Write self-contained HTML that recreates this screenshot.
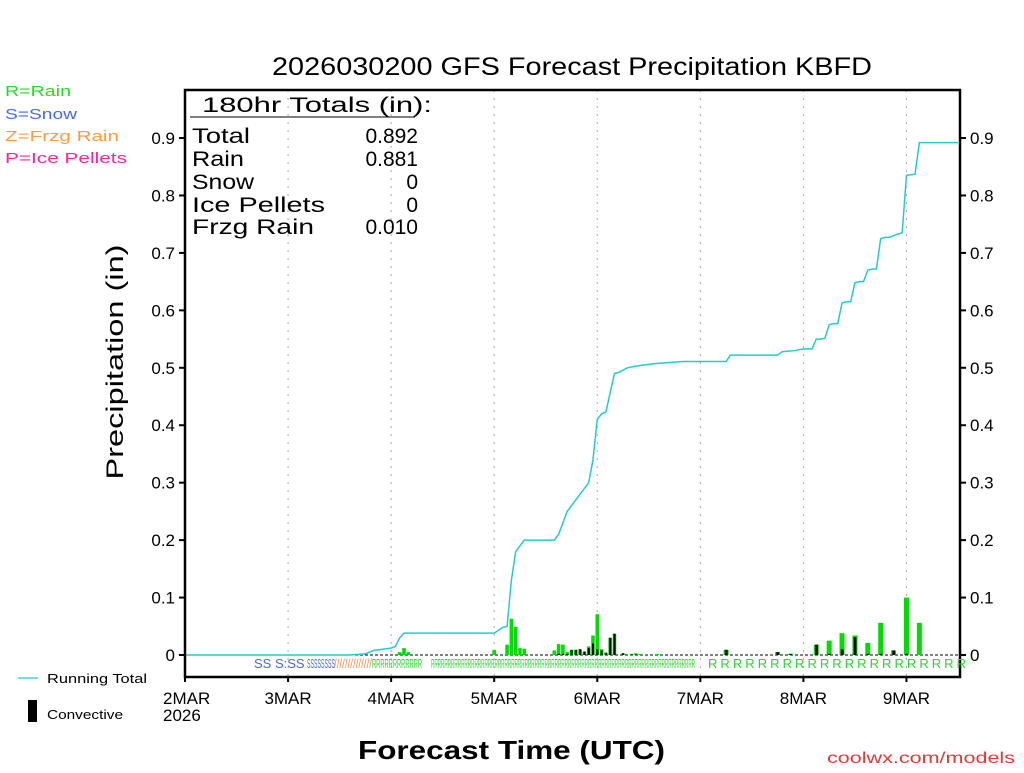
<!DOCTYPE html>
<html><head><meta charset="utf-8"><style>
body{margin:0;background:#fff;width:1024px;height:768px;overflow:hidden}
svg{font-family:"Liberation Sans","DejaVu Sans",sans-serif}
</style></head><body>
<svg id="chart" width="1024" height="768" xmlns="http://www.w3.org/2000/svg">
<rect width="1024" height="768" fill="#fff"/>
<text x="272" y="75" font-size="25" textLength="600" lengthAdjust="spacingAndGlyphs">2026030200 GFS Forecast Precipitation KBFD</text>
<g font-size="15">
<text x="5" y="96" fill="#22dd22" textLength="66" lengthAdjust="spacingAndGlyphs">R=Rain</text>
<text x="5" y="119" fill="#4466ff" textLength="72" lengthAdjust="spacingAndGlyphs">S=Snow</text>
<text x="5" y="141" fill="#ff9944" textLength="114" lengthAdjust="spacingAndGlyphs">Z=Frzg Rain</text>
<text x="5" y="163" fill="#ff2299" textLength="122" lengthAdjust="spacingAndGlyphs">P=Ice Pellets</text>
</g>
<text transform="translate(123,362) rotate(-90)" font-size="24" text-anchor="middle" textLength="235" lengthAdjust="spacingAndGlyphs">Precipitation (in)</text>
<text x="358" y="759" font-size="26" font-weight="bold" textLength="307" lengthAdjust="spacingAndGlyphs">Forecast Time (UTC)</text>
<text x="1015" y="763" font-size="16" fill="#ee3333" text-anchor="end" textLength="188" lengthAdjust="spacingAndGlyphs">coolwx.com/models</text>
<g>
<line x1="18" y1="678" x2="38" y2="678" stroke="#22cccc" stroke-width="1.2"/>
<text x="47" y="683" font-size="13" textLength="100" lengthAdjust="spacingAndGlyphs">Running Total</text>
<rect x="28" y="700" width="9" height="22" fill="#000"/>
<text x="47" y="719" font-size="13" textLength="76" lengthAdjust="spacingAndGlyphs">Convective</text>
</g>
<g id="grid"></g><g id="bars"></g><g id="line"></g><g id="axes"></g><g id="ptype"></g>
<g font-size="21">
<text x="202" y="112" textLength="230" lengthAdjust="spacingAndGlyphs">180hr Totals (in):</text>
<line x1="190" y1="117" x2="415" y2="117" stroke="#000"/>
<text x="192" y="143" textLength="58" lengthAdjust="spacingAndGlyphs">Total</text><text x="418" y="143" text-anchor="end">0.892</text>
<text x="192" y="166" textLength="52" lengthAdjust="spacingAndGlyphs">Rain</text><text x="418" y="166" text-anchor="end">0.881</text>
<text x="192" y="189" textLength="62" lengthAdjust="spacingAndGlyphs">Snow</text><text x="418" y="189" text-anchor="end">0</text>
<text x="192" y="212" textLength="133" lengthAdjust="spacingAndGlyphs">Ice Pellets</text><text x="418" y="212" text-anchor="end">0</text>
<text x="192" y="234" textLength="122" lengthAdjust="spacingAndGlyphs">Frzg Rain</text><text x="418" y="234" text-anchor="end">0.010</text>
</g>
</svg>
<script>
const dayLabels=["2MAR","3MAR","4MAR","5MAR","6MAR","7MAR","8MAR","9MAR"];
const yTicks=[0,0.1,0.2,0.3,0.4,0.5,0.6,0.7,0.8,0.9];
// bars: hour, total, convective
const barHours=[41,50,51,52,72,75,76,77,78,79,86,87,88,89,90,91,92,93,94,95,96,97,98,99,100,102,104,105,106,110,126,138,141,147,150,153,156,159,162,165,168,171];
const barTotal=[0.002,0.005,0.012,0.005,0.009,0.018,0.063,0.049,0.012,0.011,0.008,0.019,0.018,0.005,0.009,0.009,0.01,0.006,0.015,0.034,0.071,0.01,0.004,0.03,0.037,0.003,0.002,0.003,0.002,0.002,0.009,0.005,0.002,0.018,0.025,0.038,0.034,0.021,0.056,0.008,0.1,0.056];
const barConv=[0,0,0,0,0,0,0,0,0,0,0,0.002,0.002,0.002,0.009,0.009,0.01,0.006,0.012,0.02,0.01,0.008,0.004,0.03,0.037,0.003,0.001,0.001,0,0,0.009,0.005,0.002,0.018,0.002,0.01,0.031,0.002,0.002,0.008,0.002,0];
const barFrz=[1,0,0,0,0,0,0,0,0,0,0,0,0,0,0,0,0,0,0,0,0,0,0,0,0,0,0,0,0,0,0,0,0,0,0,0,0,0,0,0,0,0];
const totHours=[0,38,42,44,48,49,50,51,72,74,75,76,77,79,86,87,89,91,93,94,95,96,97,98,100,101,103,105,109,116,126,127,138,139,142,144,145,146,147,148,149,150,151,152,153,154,155,156,157,158,159,160,161,162,163,164,166,167,168,169,170,171,180];
const totVals=[0,0,0.002,0.008,0.012,0.015,0.03,0.038,0.038,0.048,0.05,0.13,0.18,0.2,0.2,0.21,0.25,0.27,0.29,0.3,0.34,0.41,0.42,0.423,0.49,0.492,0.5,0.503,0.507,0.511,0.511,0.522,0.522,0.528,0.53,0.533,0.533,0.533,0.55,0.55,0.551,0.575,0.577,0.577,0.613,0.615,0.615,0.648,0.65,0.65,0.67,0.672,0.672,0.725,0.727,0.727,0.733,0.735,0.835,0.836,0.837,0.892,0.892];
const X0=185,X1=958,Y0=655,YP=574.4,TOP=90,BOT=677;
const xs=h=>X0+(X1-X0)*h/180, ys=v=>Y0-v*YP;
const NS="http://www.w3.org/2000/svg";
function mk(t,a,p){const e=document.createElementNS(NS,t);for(const k in a)e.setAttribute(k,a[k]);p.appendChild(e);return e;}
const grid=document.getElementById('grid'),axes=document.getElementById('axes'),bars=document.getElementById('bars'),line=document.getElementById('line'),pt=document.getElementById('ptype');
dayLabels.forEach((d,i)=>{const x=xs(i*24);
 if(i>0){const g=mk('line',{x1:x,y1:TOP,x2:x,y2:BOT,stroke:'#aaa','stroke-dasharray':'2,6'},grid);
 
 }
 mk('line',{x1:x,y1:BOT,x2:x,y2:BOT+5,stroke:'#000','stroke-width':2},axes);
 const t=mk('text',{x:x,y:BOT+27,'font-size':17,'text-anchor':i==0?'start':'middle'},axes);t.textContent=d;if(i==0)t.setAttribute('x',x-22);
 
 
});
const yr=mk('text',{x:X0-22,y:BOT+44,'font-size':17},axes);yr.textContent='2026';


mk('line',{x1:X0,y1:Y0,x2:X1+2,y2:Y0,stroke:'#000','stroke-dasharray':'3,2'},grid);
yTicks.forEach(v=>{const y=ys(v);
 mk('line',{x1:X0-6,y1:y,x2:X0,y2:y,stroke:'#000','stroke-width':2},axes);
 mk('line',{x1:X1+2,y1:y,x2:X1+8,y2:y,stroke:'#000','stroke-width':2},axes);
 const a=mk('text',{x:X0-10,y:y+6,'font-size':17,'text-anchor':'end'},axes);a.textContent=v==0?'0':v.toFixed(1);
 
 
 const b=mk('text',{x:X1+12,y:y+6,'font-size':17},axes);b.textContent=v==0?'0':v.toFixed(1);
 
 
});
const frame=mk('rect',{x:X0,y:TOP,width:X1+2-X0,height:BOT-TOP,fill:'none',stroke:'#000','stroke-width':2.5},axes);


barHours.forEach((h,i)=>{const w=h>=120?5:3.6;const x=xs(h)-w/2;
 const b=mk('rect',{x:x,y:ys(barTotal[i]),width:w,height:Y0-ys(barTotal[i]),fill:barFrz[i]?'#ff8844':'#00dd00'},bars);
 
 
 if(barConv[i]>0){const c=mk('rect',{x:x+w*0.25,y:ys(barConv[i]),width:w*0.55,height:Y0-ys(barConv[i]),fill:'#000'},bars);
 
 }
});
const pl=mk('polyline',{points:totHours.map((h,i)=>xs(h)+','+ys(totVals[i])).join(' '),fill:'none',stroke:'#22cccc','stroke-width':1.5},line);


// precip type row
const s1=mk('text',{x:254,y:668,'font-size':13,fill:'#4466ff'},pt);s1.textContent='SS S:SS';


const s2=mk('text',{x:307,y:668,'font-size':13,fill:'#4466ff',textLength:28,lengthAdjust:'spacingAndGlyphs'},pt);s2.textContent='SSSSSSSS';


const hz=mk('text',{x:334,y:668,'font-size':13,fill:'#ff8844',textLength:38,lengthAdjust:'spacingAndGlyphs'},pt);hz.textContent='//////////////';


const r1=mk('text',{x:372,y:668,'font-size':13,fill:'#22dd22',textLength:50,lengthAdjust:'spacingAndGlyphs'},pt);r1.textContent='RRRRRRRRRRRR';


const r2=mk('text',{x:431,y:668,'font-size':13,fill:'#22dd22',textLength:264,lengthAdjust:'spacingAndGlyphs'},pt);r2.textContent='RRRRRRRRRRRRRRRRRRRRRRRRRRRRRRRRRRRRRRRRRRRRRRRRRRRRRRRRRRRRRRRRRRRRRRRRRRRRRRR';


const r3=mk('text',{x:708,y:668,'font-size':13,fill:'#22dd22',textLength:258,lengthAdjust:'spacing'},pt);r3.textContent='RRRRRRRRRRRRRRRRRRRRR';


</script>
</body></html>
